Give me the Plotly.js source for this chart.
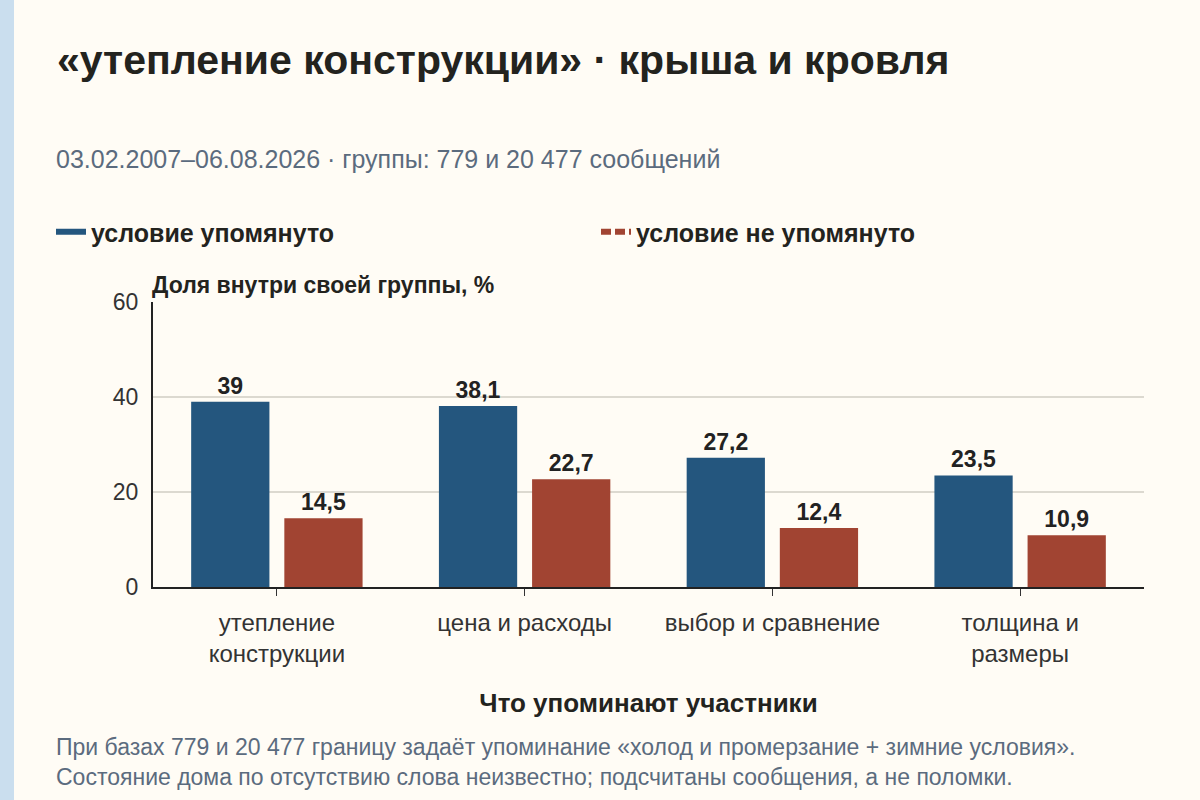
<!DOCTYPE html>
<html>
<head>
<meta charset="utf-8">
<script src="https://cdn.plot.ly/plotly-3.0.1.min.js"></script>
<style>
  html, body { margin: 0; padding: 0; background: #fffcf5; }
  #wrap { width: 1186px; height: 800px; border-left: 14px solid #cadeee; }
  #chart { width: 1186px; height: 800px; }
</style>
</head>
<body>
<div id="wrap"><div id="chart"></div></div>
<script>
// данные
const categories = ['утепление<br>конструкции', 'цена и расходы', 'выбор и сравнение', 'толщина и<br>размеры'];
const mentioned = [39, 38.1, 27.2, 23.5];
const notMentioned = [14.5, 22.7, 12.4, 10.9];
const seriesNames = ['условие упомянуто', 'условие не упомянуто'];

const BLUE = '#24567e';
const RED = '#a14432';
const FONT = 'Liberation Sans, Arial, sans-serif';

// пересчёт пикселей страницы в координаты paper (область графика 139..1130 внутри div)
const L = 139, R = 1130;
const px = x => (x - 14 - L) / (R - L);

function barTrace(vals, color) {
  return {
    type: 'bar',
    x: categories,
    y: vals,
    marker: { color: color },
    text: vals,
    texttemplate: '%{y}',
    textposition: 'outside',
    constraintext: 'none',
    textfont: { family: FONT, size: 23, color: '#222222', weight: 'bold' },
    cliponaxis: false,
    showlegend: false,
    hoverinfo: 'skip'
  };
}

// отдельные трассы только для легенды (линейные значки)
function legendTrace(name, color, dash, legend) {
  return {
    type: 'scatter',
    mode: 'lines',
    x: [null],
    y: [null],
    name: name,
    legend: legend,
    line: { color: color, width: 6, dash: dash },
    hoverinfo: 'skip'
  };
}

const traces = [
  barTrace(mentioned, BLUE),
  barTrace(notMentioned, RED),
  legendTrace(seriesNames[0], BLUE, 'solid', 'legend'),
  legendTrace(seriesNames[1], RED, '10px,4px', 'legend2')
];

function legendBox(leftPx) {
  return {
    orientation: 'h',
    xref: 'container', yref: 'container',
    x: leftPx / 1186, xanchor: 'left',
    y: 1 - 232 / 800, yanchor: 'middle',
    font: { family: FONT, size: 25, color: '#23231e', weight: 'bold' },
    bgcolor: 'rgba(0,0,0,0)'
  };
}

const layout = {
  width: 1186,
  height: 800,
  paper_bgcolor: '#fffcf5',
  plot_bgcolor: '#fffcf5',
  separators: ', ',
  font: { family: FONT, color: '#333333' },
  margin: { l: L, r: 1186 - R, t: 302, b: 213 },
  barmode: 'group',
  bargap: 0.248,
  bargroupgap: 0.16,
  title: {
    text: '«утепление конструкции» · крыша и кровля',
    font: { family: FONT, size: 41, color: '#23231e', weight: 'bold' },
    xref: 'container', yref: 'container',
    x: 43 / 1186, xanchor: 'left',
    y: 1 - 60 / 800, yanchor: 'middle'
  },
  showlegend: true,
  legend: legendBox(37),
  legend2: legendBox(582),
  xaxis: {
    type: 'category',
    showline: true,
    linecolor: '#222222',
    linewidth: 2,
    ticks: 'outside',
    ticklen: 7,
    tickcolor: '#333333',
    ticklabelstandoff: 6,
    tickfont: { family: FONT, size: 24, color: '#333333' },
    title: {
      text: 'Что упоминают участники',
      font: { family: FONT, size: 26, color: '#23231e', weight: 'bold' },
      standoff: 28
    }
  },
  yaxis: {
    range: [0, 60],
    tickvals: [0, 20, 40, 60],
    showline: true,
    linecolor: '#222222',
    linewidth: 2,
    showgrid: true,
    gridcolor: '#dcd9d0',
    gridwidth: 2,
    zeroline: false,
    ticks: '',
    ticklabelstandoff: 8,
    tickfont: { family: FONT, size: 23, color: '#333333' }
  },
  annotations: [
    {
      text: '03.02.2007–06.08.2026 · группы: 779 и 20 477 сообщений',
      xref: 'paper', yref: 'paper',
      x: px(54), xanchor: 'left',
      y: 1 + (302 - 159) / 285, yanchor: 'middle',
      showarrow: false,
      font: { family: FONT, size: 25, color: '#5b6b7e' }
    },
    {
      text: 'Доля внутри своей группы, %',
      xref: 'paper', yref: 'paper',
      x: px(150), xanchor: 'left',
      y: 1 + (302 - 285) / 285, yanchor: 'middle',
      showarrow: false,
      font: { family: FONT, size: 23, color: '#23231e', weight: 'bold' }
    },
    {
      text: 'При базах 779 и 20 477 границу задаёт упоминание «холод и промерзание + зимние условия».<br>Состояние дома по отсутствию слова неизвестно; подсчитаны сообщения, а не поломки.',
      xref: 'paper', yref: 'paper',
      x: px(54), xanchor: 'left',
      y: -(762 - 587) / 285, yanchor: 'middle',
      align: 'left',
      showarrow: false,
      font: { family: FONT, size: 23, color: '#5b6b7e' }
    }
  ]
};

Plotly.newPlot('chart', traces, layout, { displayModeBar: false, staticPlot: true });
</script>
</body>
</html>
